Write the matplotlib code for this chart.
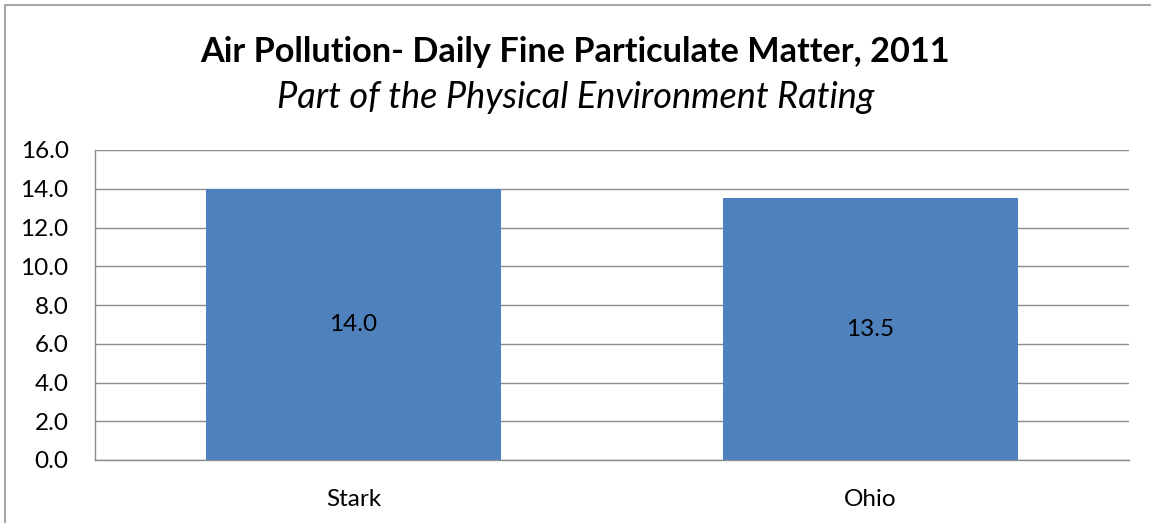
import matplotlib
matplotlib.use('Agg')
import matplotlib.pyplot as plt
from matplotlib.lines import Line2D

plt.rcParams['font.family'] = ['Lato', 'DejaVu Sans']

categories = ['Stark', 'Ohio']
values = [14.0, 13.5]
yticks = [0, 2, 4, 6, 8, 10, 12, 14, 16]

fig = plt.figure(figsize=(11.51, 5.23), dpi=100)
ax = fig.add_axes([95 / 1151, 63 / 523, 1034 / 1151, 310 / 523])

x = range(len(categories))
bars = ax.bar(x, values, width=0.57, color='#4F81BD', zorder=3)
for b, v in zip(bars, values):
    ax.text(b.get_x() + b.get_width() / 2, v / 2, f'{v:.1f}',
            ha='center', va='center', fontsize=17.5, color='black', zorder=4)

ax.set_xlim(-0.5, 1.5)
ax.set_ylim(0, 16)
ax.set_yticks(yticks)
ax.set_yticklabels([f'{t:.1f}' for t in yticks], fontsize=17.5)
ax.set_xticks(list(x))
ax.set_xticklabels(categories, fontsize=17.5)
ax.tick_params(axis='both', length=0)
ax.tick_params(axis='y', pad=19)
ax.tick_params(axis='x', pad=21)
ax.grid(axis='y', color='#8c8c8c', linewidth=1, zorder=0)
for s in ['top', 'right']:
    ax.spines[s].set_visible(False)
for s in ['left', 'bottom']:
    ax.spines[s].set_color('#8c8c8c')
    ax.spines[s].set_linewidth(1)

fig.text(0.5, 1 - 52 / 523, 'Air Pollution- Daily Fine Particulate Matter, 2011',
         ha='center', va='center', fontsize=24.7, fontweight='bold')
fig.text(0.5, 1 - 97 / 523, 'Part of the Physical Environment Rating',
         ha='center', va='center', fontsize=26, fontstyle='italic')

# chart border: only top and left edges show in the picture
fig.lines.append(Line2D([5 / 1151, 5 / 1151, 1], [0, 1 - 5 / 523, 1 - 5 / 523],
                        transform=fig.transFigure, color='#a6a6a6', linewidth=1.5))

fig.savefig('out.png', dpi=100)
